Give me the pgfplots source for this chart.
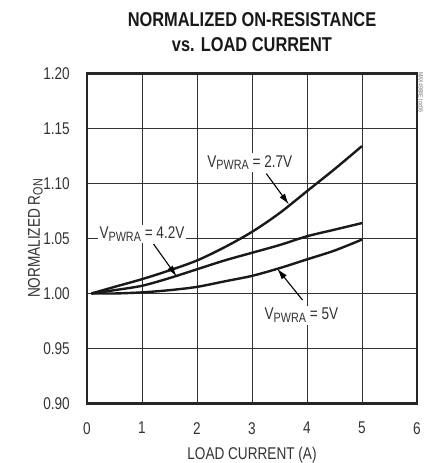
\documentclass[border=0pt]{standalone}
\usepackage{pgfplots}
\pgfplotsset{compat=1.18}
\usepackage{fontspec}
\setmainfont[FakeStretch=0.8]{Liberation Sans}
\newfontfamily\titlefont[FakeStretch=0.82]{Liberation Sans}
\usetikzlibrary{arrows.meta}
\newcommand\sub[1]{\raisebox{-0.3ex}{\fontsize{13.5bp}{14bp}\selectfont #1}}
\newcommand\lbl{\fontsize{17bp}{19bp}\selectfont}
\begin{document}
\begin{tikzpicture}[x=1bp,y=1bp]
\begin{axis}[
  at={(0,0)}, anchor=origin,
  scale only axis, width=330bp, height=330bp,
  xmin=0, xmax=6, ymin=0.90, ymax=1.20,
  xtick={0,1,2,3,4,5,6}, ytick={0.90,0.95,1.00,1.05,1.10,1.15,1.20},
  /pgf/number format/assume math mode=true,
  ticklabel style={font=\lbl, text=black!80, inner sep=0pt},
  xticklabel style={anchor=north, yshift=-18.5bp},
  yticklabel style={anchor=east, xshift=-17bp, /pgf/number format/.cd, fixed, fixed zerofill, precision=2},
  major tick length=0,
  grid=major, grid style={black!80, line width=0.9bp},
  axis line style={line width=2.8bp, black!85},
  xlabel={LOAD CURRENT (A)}, ylabel={NORMALIZED R\sub{ON}},
  label style={font=\lbl, text=black!80, inner sep=0pt},
  xlabel style={at={(axis description cs:0.5,-0.1318)}, anchor=north},
  ylabel style={at={(axis description cs:-0.1430,0.5)}, anchor=base},
  clip=false,
]
\addplot[black!90, line width=2.4bp, smooth] coordinates {
 (0.08,1.000) (0.5,1.006) (1.0,1.013) (1.5,1.021) (2.0,1.030) (2.5,1.042) (3.0,1.056) (3.5,1.073) (4.0,1.093) (4.5,1.113) (5.0,1.134)};
\addplot[black!90, line width=2.4bp, smooth] coordinates {
 (0.08,1.000) (0.5,1.003) (1.0,1.007) (1.5,1.014) (2.0,1.022) (2.5,1.030) (3.0,1.037) (3.5,1.044) (4.0,1.052) (4.5,1.058) (5.0,1.064)};
\addplot[black!90, line width=2.4bp, smooth] coordinates {
 (0.08,1.000) (0.5,1.000) (1.0,1.001) (1.5,1.003) (2.0,1.006) (2.5,1.011) (3.0,1.016) (3.5,1.023) (4.0,1.031) (4.5,1.039) (5.0,1.049)};
\node[fill=white, inner sep=2bp, font=\lbl, text=black!80] at (axis cs:2.96,1.119) {V\sub{PWRA} = 2.7V};
\node[fill=white, inner sep=2bp, font=\lbl, text=black!80] at (axis cs:1.0,1.054) {V\sub{PWRA} = 4.2V};
\node[fill=white, inner sep=2bp, font=\lbl, text=black!80] at (axis cs:3.9,0.980) {V\sub{PWRA} = 5V};
\draw[line width=1.1bp, -{Latex[length=11bp,width=6.5bp]}] (axis cs:3.26,1.109) -- (axis cs:3.67,1.081);
\draw[line width=1.1bp, -{Latex[length=11bp,width=6.5bp]}] (axis cs:1.21,1.045) -- (axis cs:1.63,1.0155);
\draw[line width=1.1bp, -{Latex[length=11bp,width=6.5bp]}] (axis cs:3.92,0.994) -- (axis cs:3.46,1.0225);
\end{axis}
\node[rotate=-90, anchor=west, font=\fontsize{6.5bp}{7bp}\selectfont, text=black!55] at (334bp,335bp) {MAX4984E toc06};
\node[font=\titlefont\bfseries\fontsize{20bp}{25bp}\selectfont, align=center, text=black!90] at (165bp,371.5bp) {NORMALIZED ON-RESISTANCE\\vs. LOAD CURRENT};
\path[use as bounding box] (-87bp,-59.5bp) rectangle (338bp,403.5bp);
\end{tikzpicture}
\end{document}
